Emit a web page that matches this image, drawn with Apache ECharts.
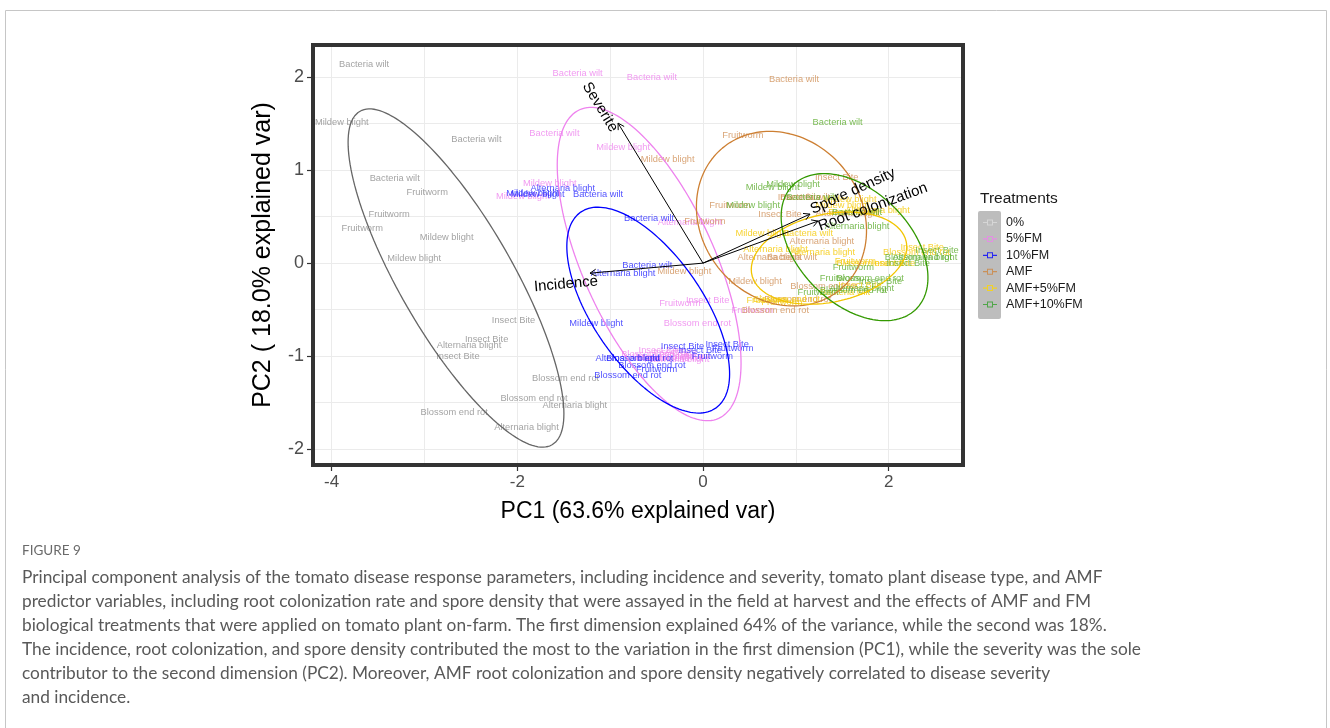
<!DOCTYPE html>
<html>
<head>
<meta charset="utf-8">
<title>PCA biplot of tomato disease response</title>
<script src="https://cdn.jsdelivr.net/npm/echarts@6/dist/echarts.min.js"></script>
<style>
  html, body { margin: 0; padding: 0; background: #fff; }
  #chart { width: 1330px; height: 728px; }
</style>
</head>
<body>
<div id="chart"></div>
<script>
// ---------------- data ----------------
const treatments = ['0%', '5%FM', '10%FM', 'AMF', 'AMF+5%FM', 'AMF+10%FM'];

// disease type of each observation (same order within every treatment)
const diseases = [
  'Bacteria wilt', 'Bacteria wilt', 'Bacteria wilt',
  'Mildew blight', 'Mildew blight', 'Mildew blight',
  'Fruitworm', 'Fruitworm', 'Fruitworm',
  'Insect Bite', 'Insect Bite', 'Insect Bite',
  'Alternaria blight', 'Alternaria blight', 'Alternaria blight',
  'Blossom end rot', 'Blossom end rot', 'Blossom end rot'
];

// PC scores per treatment
const pc1_0 = [-3.65, -2.44, -3.32, -3.89, -2.76, -3.11, -2.97, -3.38, -3.67, -2.04, -2.33, -2.64, -2.52, -1.38, -1.90, -1.48, -1.82, -2.68];
const pc2_0 = [2.14, 1.33, 0.91, 1.51, 0.28, 0.05, 0.76, 0.52, 0.37, -0.62, -0.82, -1.00, -0.88, -1.53, -1.77, -1.24, -1.45, -1.61];

const pc1_5fm = [-1.35, -0.55, -1.60, -0.86, -1.65, -1.94, -0.25, 0.53, -0.14, 0.05, -0.46, -0.30, -0.14, -0.28, -0.44, -0.06, -0.52, -0.36];
const pc2_5fm = [2.04, 2.00, 1.39, 1.24, 0.86, 0.72, -0.43, -0.51, -1.00, -0.40, -0.94, -0.96, 0.44, -1.04, -1.01, -0.65, -0.98, -1.02];

const pc1_10fm = [-1.13, -0.58, -0.60, -1.83, -1.15, -1.78, 0.10, -0.50, 0.32, 0.26, -0.22, -0.03, -1.51, -0.86, -0.81, -0.68, -0.55, -0.81];
const pc2_10fm = [0.74, 0.48, -0.02, 0.75, -0.65, 0.74, -1.00, -1.14, -0.92, -0.87, -0.90, -0.94, 0.80, -0.11, -1.02, -1.02, -1.10, -1.21];

const pc1_amf = [0.98, 1.10, 0.96, -0.38, -0.20, 0.56, 0.43, 0.29, 0.02, 1.44, 0.83, 1.04, 1.28, 0.72, 1.56, 1.30, 0.78, 1.02];
const pc2_amf = [1.97, 0.71, 0.06, 1.11, -0.09, -0.20, 1.37, 0.62, 0.45, 0.92, 0.52, 0.71, 0.23, 0.06, 0.53, -0.25, -0.51, -0.39];

const pc1_amf5 = [1.13, 1.62, 1.53, 1.58, 0.64, 1.50, 1.64, 0.69, 0.85, 2.36, 2.05, 1.69, 1.88, 0.78, 1.29, 2.30, 1.80, 0.90];
const pc2_amf5 = [0.32, 0.54, -0.31, 0.68, 0.32, 0.62, 0.02, -0.40, -0.42, 0.17, 0.00, -0.24, 0.57, 0.15, 0.12, 0.11, 0.00, -0.39];

const pc1_amf10 = [1.45, 1.66, 1.17, 0.97, 0.75, 0.54, 1.62, 1.48, 1.24, 2.52, 1.91, 2.21, 1.66, 1.71, 2.39, 2.32, 1.80, 1.62];
const pc2_amf10 = [1.51, 0.54, 0.71, 0.85, 0.81, 0.62, -0.05, -0.16, -0.31, 0.14, -0.20, 0.00, 0.39, -0.27, 0.06, 0.06, -0.16, -0.29];

// variable loadings (arrows)
const loadingNames = ['Severite', 'Incidence', 'Spore density', 'Root colonization'];
const loadingPC1 = [-0.915, -1.217, 1.152, 1.238];
const loadingPC2 = [1.505, -0.108, 0.527, 0.452];

// 68% normal ellipses per treatment: centre, semi-axes, orientation (deg)
const ellipseCx = [-2.66, -0.58, -0.59, 0.845, 1.357, 1.632];
const ellipseCy = [-0.16, -0.01, -0.505, 0.478, 0.054, 0.172];
const ellipseA = [2.07, 1.82, 1.28, 0.99, 0.85, 0.94];
const ellipseB = [0.61, 0.71, 0.595, 0.86, 0.473, 0.605];
const ellipseAngle = [-60, -65.7, -55.4, -50, 12, -45];

// axis ticks
const xTicks = [-4, -2, 0, 2];
const yTicks = [-2, -1, 0, 1, 2];

// ---------------- styling / layout ----------------
const FONT = '"Liberation Sans", Arial, Helvetica, sans-serif';
const GRID = { left: 313, top: 45, width: 650, height: 420 };
const X_RANGE = [-4.2, 2.8];
const Y_RANGE = [-2.17, 2.345];

const textColors = ['#8c8c8c', '#ee82ee', '#1f1fff', '#d08f55', '#f5c800', '#5aab2a'];
const ellipseColors = ['#666666', '#ee82ee', '#0000ff', '#cd7f32', '#f2c500', '#339900'];
const keyColors = ['#dcdcdc', '#ee82ee', '#0000ff', '#cd853f', '#ffd700', '#33a02c'];

// label offset (px) from each arrow tip to the centre of its variable name
const loadingLabelShift = {
  'Severite': [-18, -16],
  'Incidence': [-24, 11],
  'Spore density': [43, -23],
  'Root colonization': [55, -14]
};

const scoresX = [pc1_0, pc1_5fm, pc1_10fm, pc1_amf, pc1_amf5, pc1_amf10];
const scoresY = [pc2_0, pc2_5fm, pc2_10fm, pc2_amf, pc2_amf5, pc2_amf10];

function ellipsePoints(i) {
  const pts = [];
  const phi = ellipseAngle[i] * Math.PI / 180;
  const n = 160;
  for (let k = 0; k <= n; k++) {
    const t = 2 * Math.PI * k / n;
    const u = ellipseA[i] * Math.cos(t);
    const v = ellipseB[i] * Math.sin(t);
    pts.push([
      ellipseCx[i] + u * Math.cos(phi) - v * Math.sin(phi),
      ellipseCy[i] + u * Math.sin(phi) + v * Math.cos(phi)
    ]);
  }
  return pts;
}

const series = [];

// observation labels
treatments.forEach((t, i) => {
  series.push({
    name: t,
    type: 'scatter',
    xAxisIndex: 0,
    yAxisIndex: 0,
    symbolSize: 1,
    itemStyle: { color: 'rgba(0,0,0,0)' },
    silent: true,
    emphasis: { disabled: true },
    z: 2,
    data: diseases.map((d, k) => ({ name: d, value: [scoresX[i][k], scoresY[i][k]] })),
    label: {
      show: true,
      position: 'inside',
      formatter: '{b}',
      color: textColors[i],
      fontSize: 9.3,
      fontFamily: FONT
    }
  });
});

// ellipses
treatments.forEach((t, i) => {
  series.push({
    name: t,
    type: 'line',
    xAxisIndex: 0,
    yAxisIndex: 0,
    showSymbol: false,
    silent: true,
    z: 3,
    data: ellipsePoints(i),
    lineStyle: { color: ellipseColors[i], width: 1.3 },
    itemStyle: { color: ellipseColors[i] },
    emphasis: { disabled: true }
  });
});

// loading arrows with variable names
series.push({
  name: 'loadings',
  type: 'custom',
  xAxisIndex: 0,
  yAxisIndex: 0,
  silent: true,
  z: 5,
  data: loadingNames.map((n, k) => [loadingPC1[k], loadingPC2[k], n]),
  renderItem: function (params, api) {
    const name = loadingNames[params.dataIndex];
    const p0 = api.coord([0, 0]);
    const p1 = api.coord([api.value(0), api.value(1)]);
    const ang = Math.atan2(p1[1] - p0[1], p1[0] - p0[0]);
    const L = 7, h = Math.PI / 6;
    const a1 = [p1[0] - L * Math.cos(ang - h), p1[1] - L * Math.sin(ang - h)];
    const a2 = [p1[0] - L * Math.cos(ang + h), p1[1] - L * Math.sin(ang + h)];
    const rot = Math.atan(api.value(1) / api.value(0));
    const sh = loadingLabelShift[name];
    return {
      type: 'group',
      children: [
        { type: 'line', shape: { x1: p0[0], y1: p0[1], x2: p1[0], y2: p1[1] },
          style: { stroke: '#000', lineWidth: 1 } },
        { type: 'polyline', shape: { points: [a1, p1, a2] },
          style: { stroke: '#000', lineWidth: 1, fill: null } },
        { type: 'text', x: p1[0] + sh[0], y: p1[1] + sh[1], rotation: rot,
          style: { text: name, fill: '#000', font: '15px ' + FONT,
                   align: 'center', verticalAlign: 'middle',
                   textAlign: 'center', textVerticalAlign: 'middle' } }
      ]
    };
  }
});

const keyIcon = 'path://M0,6.4L4,6.4L4,7.6L0,7.6Z M10,6.4L14,6.4L14,7.6L10,7.6Z M4,4L10,4L10,10L4,10Z M5,5L5,9L9,9L9,5Z';

const captionLines = [
  'Principal component analysis of the tomato disease response parameters, including incidence and severity, tomato plant disease type, and AMF',
  'predictor variables, including root colonization rate and spore density that were assayed in the field at harvest and the effects of AMF and FM',
  'biological treatments that were applied on tomato plant on-farm. The first dimension explained 64% of the variance, while the second was 18%.',
  'The incidence, root colonization, and spore density contributed the most to the variation in the first dimension (PC1), while the severity was the sole',
  'contributor to the second dimension (PC2). Moreover, AMF root colonization and spore density negatively correlated to disease severity',
  'and incidence.'
];

const graphics = [
  // figure frame
  { type: 'rect', z: -10, silent: true,
    shape: { x: 5.5, y: 10.5, width: 1321, height: 740 },
    style: { fill: '#fff', stroke: '#c6c6c6', lineWidth: 1 } },
  // legend key backdrop
  { type: 'rect', z: 0, silent: true,
    shape: { x: 978, y: 211, width: 23, height: 108, r: 2 },
    style: { fill: '#bdbdbd' } },
  // panel border
  { type: 'rect', z: 50, silent: true,
    shape: { x: GRID.left, y: GRID.top, width: GRID.width, height: GRID.height },
    style: { fill: null, stroke: '#333333', lineWidth: 4 } },
  // legend title
  { type: 'text', x: 980, y: 199, silent: true,
    style: { text: 'Treatments', font: '15.5px ' + FONT, fill: '#1a1a1a',
             verticalAlign: 'middle', textVerticalAlign: 'middle' } },
  // caption
  { type: 'text', x: 22, y: 551, silent: true,
    style: { text: 'FIGURE 9', font: '13.5px Lato, "Open Sans", sans-serif', fill: '#6a6a6a',
             verticalAlign: 'middle', textVerticalAlign: 'middle' } }
].concat(captionLines.map((t, i) => ({
  type: 'text', x: 22, y: 577 + 24 * i, silent: true,
  style: { text: t, font: '17.3px Lato, "Open Sans", sans-serif', fill: '#595959',
           verticalAlign: 'middle', textVerticalAlign: 'middle' }
})));

const gridLine = { show: true, lineStyle: { color: '#ebebeb', width: 1 }, showMinLine: false, showMaxLine: false };

const option = {
  animation: false,
  backgroundColor: '#ffffff',
  grid: { left: GRID.left, top: GRID.top, width: GRID.width, height: GRID.height, show: false, containLabel: false },
  xAxis: [
    {
      type: 'value', min: X_RANGE[0], max: X_RANGE[1], position: 'bottom',
      name: 'PC1 (63.6% explained var)', nameLocation: 'middle', nameGap: 35,
      nameTextStyle: { fontSize: 23, color: '#000', fontFamily: FONT },
      axisLine: { show: false, onZero: false },
      axisTick: { show: true, length: 6, lineStyle: { color: '#333', width: 1.2 }, customValues: xTicks },
      axisLabel: { show: true, margin: 9, fontSize: 17, color: '#4d4d4d', fontFamily: FONT, customValues: xTicks },
      splitLine: { show: false }
    },
    {
      type: 'value', min: X_RANGE[0], max: X_RANGE[1], splitNumber: 7, position: 'bottom',
      axisLine: { show: false, onZero: false }, axisTick: { show: false }, axisLabel: { show: false },
      splitLine: gridLine
    }
  ],
  yAxis: [
    {
      type: 'value', min: Y_RANGE[0], max: Y_RANGE[1], position: 'left',
      name: 'PC2 ( 18.0% explained var)', nameLocation: 'middle', nameGap: 37, nameRotate: 90,
      nameTextStyle: { fontSize: 25, color: '#000', fontFamily: FONT },
      axisLine: { show: false, onZero: false },
      axisTick: { show: true, length: 6, lineStyle: { color: '#333', width: 1.2 }, customValues: yTicks },
      axisLabel: { show: true, margin: 9, fontSize: 18, color: '#4d4d4d', fontFamily: FONT, customValues: yTicks },
      splitLine: { show: false }
    },
    {
      type: 'value', min: Y_RANGE[0], max: Y_RANGE[1], splitNumber: 9, position: 'left',
      axisLine: { show: false, onZero: false }, axisTick: { show: false }, axisLabel: { show: false },
      splitLine: gridLine
    }
  ],
  legend: {
    orient: 'vertical',
    left: 983, top: 216,
    padding: 0,
    itemWidth: 14, itemHeight: 14, itemGap: 3.4,
    selectedMode: false,
    data: treatments.map((t, i) => ({ name: t, icon: keyIcon, itemStyle: { color: keyColors[i] } })),
    textStyle: { fontSize: 12.5, color: '#1a1a1a', fontFamily: FONT, padding: [0, 0, 0, 4] }
  },
  graphic: graphics,
  series: series
};

const chart = echarts.init(document.getElementById('chart'), null, { renderer: 'canvas' });
chart.setOption(option);
</script>
</body>
</html>
